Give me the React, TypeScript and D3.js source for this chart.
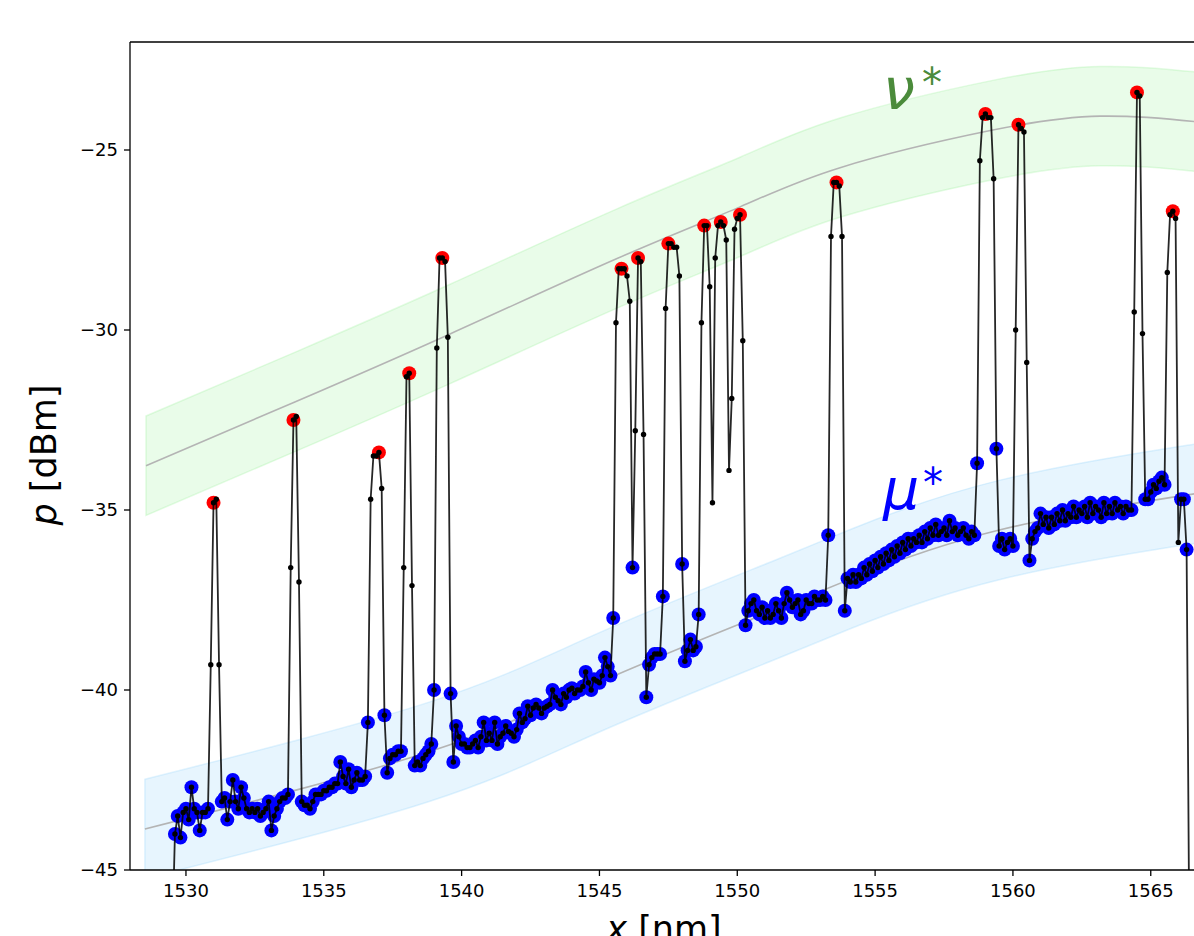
import React from 'react';
import * as d3 from 'd3';

// ---------- data ----------
const X_START = 1529.5; // nm, first sample
const X_STEP = 0.1; // nm between samples

const power: number[] = [
  -47, -44.0, -43.5, -44.1, -43.4, -43.3, -43.6, -42.7, -43.3, -43.4,
  -43.9, -43.4, -43.4, -43.3, -39.3, -34.8, -34.7, -39.3, -43.1, -43.0,
  -43.6, -43.1, -42.5, -43.1, -43.3, -42.7, -43.0, -43.3, -43.4, -43.3,
  -43.4, -43.3, -43.5, -43.4, -43.3, -43.1, -43.9, -43.5, -43.3, -43.1,
  -43.0, -43.0, -42.9, -36.6, -32.5, -32.4, -37.0, -43.1, -43.2, -43.2,
  -43.3, -43.1, -42.9, -42.9, -42.9, -42.8, -42.8, -42.7, -42.7, -42.6,
  -42.6, -42.0, -42.4, -42.6, -42.2, -42.7, -42.5, -42.3, -42.5, -42.5,
  -42.4, -40.9, -34.7, -33.5, -33.5, -33.4, -34.4, -40.7, -42.3, -41.9,
  -41.8, -41.8, -41.7, -41.7, -36.6, -31.3, -31.2, -37.1, -42.1, -42.0,
  -42.1, -41.9, -41.8, -41.7, -41.5, -40.0, -30.5, -28.0, -28.0, -28.1,
  -30.2, -40.1, -42.0, -41.0, -41.3, -41.5, -41.5, -41.6, -41.6, -41.5,
  -41.4, -41.6, -41.3, -40.9, -41.4, -41.2, -41.4, -40.9, -41.5, -41.3,
  -41.2, -41.0, -41.15, -41.2, -41.3, -41.1, -40.65, -40.9, -40.8, -40.45,
  -40.7, -40.5, -40.4, -40.5, -40.65, -40.5, -40.45, -40.4, -40.0, -40.2,
  -40.3, -40.4, -40.1, -40.2, -40.0, -39.95, -40.1, -40.0, -40.0, -39.9,
  -39.5, -39.8, -40.0, -39.7, -39.75, -39.8, -39.6, -39.1, -39.35, -39.6,
  -38.0, -29.8, -28.3, -28.3, -28.3, -28.5, -29.2, -36.6, -32.8, -28.0,
  -28.1, -32.9, -40.2, -39.3, -39.1, -39.0, -39.0, -39.0, -37.4, -29.4,
  -27.6, -27.6, -27.7, -27.7, -28.5, -36.5, -39.2, -38.9, -38.6, -38.9,
  -38.8, -37.9, -29.8, -27.1, -27.1, -28.8, -34.8, -28.0, -27.1, -27.0,
  -27.1, -27.5, -33.9, -31.9, -27.2, -26.9, -26.8, -30.3, -38.2, -37.8,
  -37.6, -37.5, -37.8, -37.9, -37.7, -38.0, -37.8, -38.0, -37.9, -37.6,
  -37.8, -38.0, -37.6, -37.3, -37.5, -37.7, -37.6, -37.5, -37.9, -37.8,
  -37.5, -37.6, -37.6, -37.4, -37.5, -37.5, -37.4, -37.5, -35.7, -27.4,
  -25.9, -25.9, -26.0, -27.4, -37.8, -36.9, -37.0, -36.8, -37.0, -36.8,
  -36.9, -36.6, -36.8, -36.5, -36.7, -36.4, -36.6, -36.3, -36.5, -36.2,
  -36.4, -36.1, -36.3, -36.0, -36.2, -35.9, -36.1, -35.8, -36.0, -35.8,
  -35.9, -35.7, -35.9, -35.6, -35.8, -35.5, -35.7, -35.4, -35.7, -35.6,
  -35.5, -35.7, -35.3, -35.6, -35.5, -35.7, -35.6, -35.5, -35.7, -35.8,
  -35.6, -35.7, -33.7, -25.3, -24.1, -24.0, -24.1, -24.1, -25.8, -33.3,
  -36.0, -35.8, -36.1, -35.9, -35.8, -36.0, -30.0, -24.3, -24.4, -24.5,
  -30.9, -36.4, -35.8, -35.6, -35.5, -35.1, -35.4, -35.2, -35.5, -35.2,
  -35.4, -35.1, -35.3, -35.0, -35.3, -35.1, -35.2, -34.9, -35.2, -35.0,
  -35.1, -34.9, -35.2, -34.8, -35.1, -34.9, -35.0, -35.2, -34.8, -35.1,
  -34.9, -35.1, -34.8, -35.0, -34.9, -35.1, -34.9, -35.0, -35.0, -29.5,
  -23.4, -23.5, -30.1, -34.7, -34.7, -34.5, -34.3, -34.4, -34.2, -34.1,
  -34.3, -28.4, -26.8, -26.7, -26.9, -35.9, -34.7, -34.7, -36.1, -47,
];

// samples classified as channel peaks (red)
const peakIdx: number[] = [15, 44, 75, 86, 98, 163, 169, 180, 193, 199, 206, 241, 295, 307, 350, 363];
// samples in neither class (plain black markers only)
const plainIdx: number[] = [
  0, 14, 16, 17, 43, 45, 46, 72, 73, 74, 76, 84, 85, 87, 96, 97, 99, 100,
  161, 162, 164, 165, 166, 168, 170, 171, 179, 181, 182, 183, 184,
  192, 194, 195, 196, 197, 198, 200, 201, 202, 203, 204, 205, 207,
  239, 240, 242, 243, 293, 294, 296, 297, 298, 306, 308, 309, 310,
  349, 351, 352, 361, 362, 364, 365, 369,
];

// fitted level curves (control points)
const nuX = [1528.55, 1533.95, 1539.58, 1545.68, 1550.1, 1553.73, 1559.18, 1563.17, 1566.58, 1568.5];
const nuY = [-33.77, -32.0, -30.11, -28.0, -26.58, -25.49, -24.46, -24.06, -24.21, -24.4];
const muX = [1528.51, 1538.85, 1545.02, 1551.19, 1554.1, 1559.54, 1566.58, 1568.5];
const muY = [-43.86, -41.71, -39.78, -37.83, -36.92, -35.55, -34.55, -34.3];
const bandHalf = 1.38; // dB

const xTicks = [1530, 1535, 1540, 1545, 1550, 1555, 1560, 1565];
const yTicks = [-45, -40, -35, -30, -25];

// ---------- layout ----------
const W = 1194;
const H = 936;
const plotLeft = 130;
const plotTop = 42;
const plotBottom = 870;
const plotRight = 1250;

export default function App() {
  const x = d3.scaleLinear().domain([1527.97, 1568.6]).range([plotLeft, plotRight]);
  const y = d3.scaleLinear().domain([-45, -22]).range([plotBottom, plotTop]);

  const pts = power.map((p, i) => ({ i, x: X_START + i * X_STEP, y: p }));
  const peakSet = new Set(peakIdx);
  const plainSet = new Set(plainIdx);
  const bluePts = pts.filter((d) => !peakSet.has(d.i) && !plainSet.has(d.i));
  const redPts = pts.filter((d) => peakSet.has(d.i));

  const line = d3
    .line<{ x: number; y: number }>()
    .x((d) => x(d.x))
    .y((d) => y(d.y));

  const curvePts = (xs: number[], ys: number[]) => xs.map((v, k) => ({ x: v, y: ys[k] }));
  const nuPts = curvePts(nuX, nuY);
  const muPts = curvePts(muX, muY);

  const centerLine = d3
    .line<{ x: number; y: number }>()
    .x((d) => x(d.x))
    .y((d) => y(d.y))
    .curve(d3.curveNatural);
  const band = d3
    .area<{ x: number; y: number }>()
    .x((d) => x(d.x))
    .y0((d) => y(d.y - bandHalf))
    .y1((d) => y(d.y + bandHalf))
    .curve(d3.curveNatural);

  const font = "'DejaVu Sans', sans-serif";

  return (
    <svg width={W} height={H} style={{ position: 'absolute', left: 0, top: 0, background: '#fff' }}>
      <defs>
        <clipPath id="plotClip">
          <rect x={plotLeft} y={plotTop} width={plotRight - plotLeft} height={plotBottom - plotTop} />
        </clipPath>
      </defs>
      <rect x={0} y={0} width={W} height={H} fill="#fff" />
      <g clipPath="url(#plotClip)">
        <path d={band(nuPts) || ''} fill="#90ee90" fillOpacity={0.2} stroke="#90ee90" strokeOpacity={0.25} strokeWidth={1.5} />
        <path d={band(muPts) || ''} fill="#87cefa" fillOpacity={0.2} stroke="#87cefa" strokeOpacity={0.25} strokeWidth={1.5} />
        <path d={centerLine(nuPts) || ''} fill="none" stroke="#b4b4b4" strokeWidth={1.6} />
        <path d={centerLine(muPts) || ''} fill="none" stroke="#b4b4b4" strokeWidth={1.6} />
        {bluePts.map((d) => (
          <circle key={'b' + d.i} cx={x(d.x)} cy={y(d.y)} r={7} fill="#0000ff" />
        ))}
        {redPts.map((d) => (
          <circle key={'r' + d.i} cx={x(d.x)} cy={y(d.y)} r={7} fill="#ff0000" />
        ))}
        <path d={line(pts) || ''} fill="none" stroke="#000" strokeOpacity={0.85} strokeWidth={1.8} strokeLinejoin="round" />
        {pts.map((d) => (
          <circle key={'k' + d.i} cx={x(d.x)} cy={y(d.y)} r={2.7} fill="#000" />
        ))}
      </g>
      {/* spines */}
      <line x1={plotLeft} x2={plotLeft} y1={plotTop} y2={plotBottom} stroke="#000" strokeWidth={1.3} />
      <line x1={plotLeft} x2={W} y1={plotTop} y2={plotTop} stroke="#000" strokeWidth={1.3} />
      <line x1={plotLeft} x2={W} y1={plotBottom} y2={plotBottom} stroke="#000" strokeWidth={1.3} />
      {/* y ticks */}
      {yTicks.map((t) => (
        <g key={'yt' + t}>
          <line x1={plotLeft - 6} x2={plotLeft} y1={y(t)} y2={y(t)} stroke="#000" strokeWidth={1.3} />
          <text x={plotLeft - 12} y={y(t)} dy="0.36em" textAnchor="end" fontFamily={font} fontSize={18} fill="#000">
            {'\u2212' + Math.abs(t)}
          </text>
        </g>
      ))}
      {/* x ticks */}
      {xTicks.map((t) => (
        <g key={'xt' + t}>
          <line x1={x(t)} x2={x(t)} y1={plotBottom} y2={plotBottom + 6} stroke="#000" strokeWidth={1.3} />
          <text x={x(t)} y={plotBottom + 27} textAnchor="middle" fontFamily={font} fontSize={18} fill="#000">
            {t}
          </text>
        </g>
      ))}
      {/* axis labels */}
      <text x={664} y={941} textAnchor="middle" fontFamily={font} fontSize={35} fill="#000">
        <tspan fontStyle="italic">x</tspan> [nm]
      </text>
      <text transform="translate(56,455) rotate(-90)" textAnchor="middle" fontFamily={font} fontSize={35} fill="#000">
        <tspan fontStyle="italic">p</tspan> [dBm]
      </text>
      {/* curve labels */}
      <text x={883} y={109} fontFamily={font} fontSize={57} fontStyle="italic" fill="#4b8b3b">ν</text>
      <text x={922} y={97} fontFamily={font} fontSize={40} fill="#4b8b3b">*</text>
      <text x={883} y={509} fontFamily={font} fontSize={57} fontStyle="italic" fill="#0000ff">μ</text>
      <text x={923} y={497} fontFamily={font} fontSize={40} fill="#0000ff">*</text>
    </svg>
  );
}
